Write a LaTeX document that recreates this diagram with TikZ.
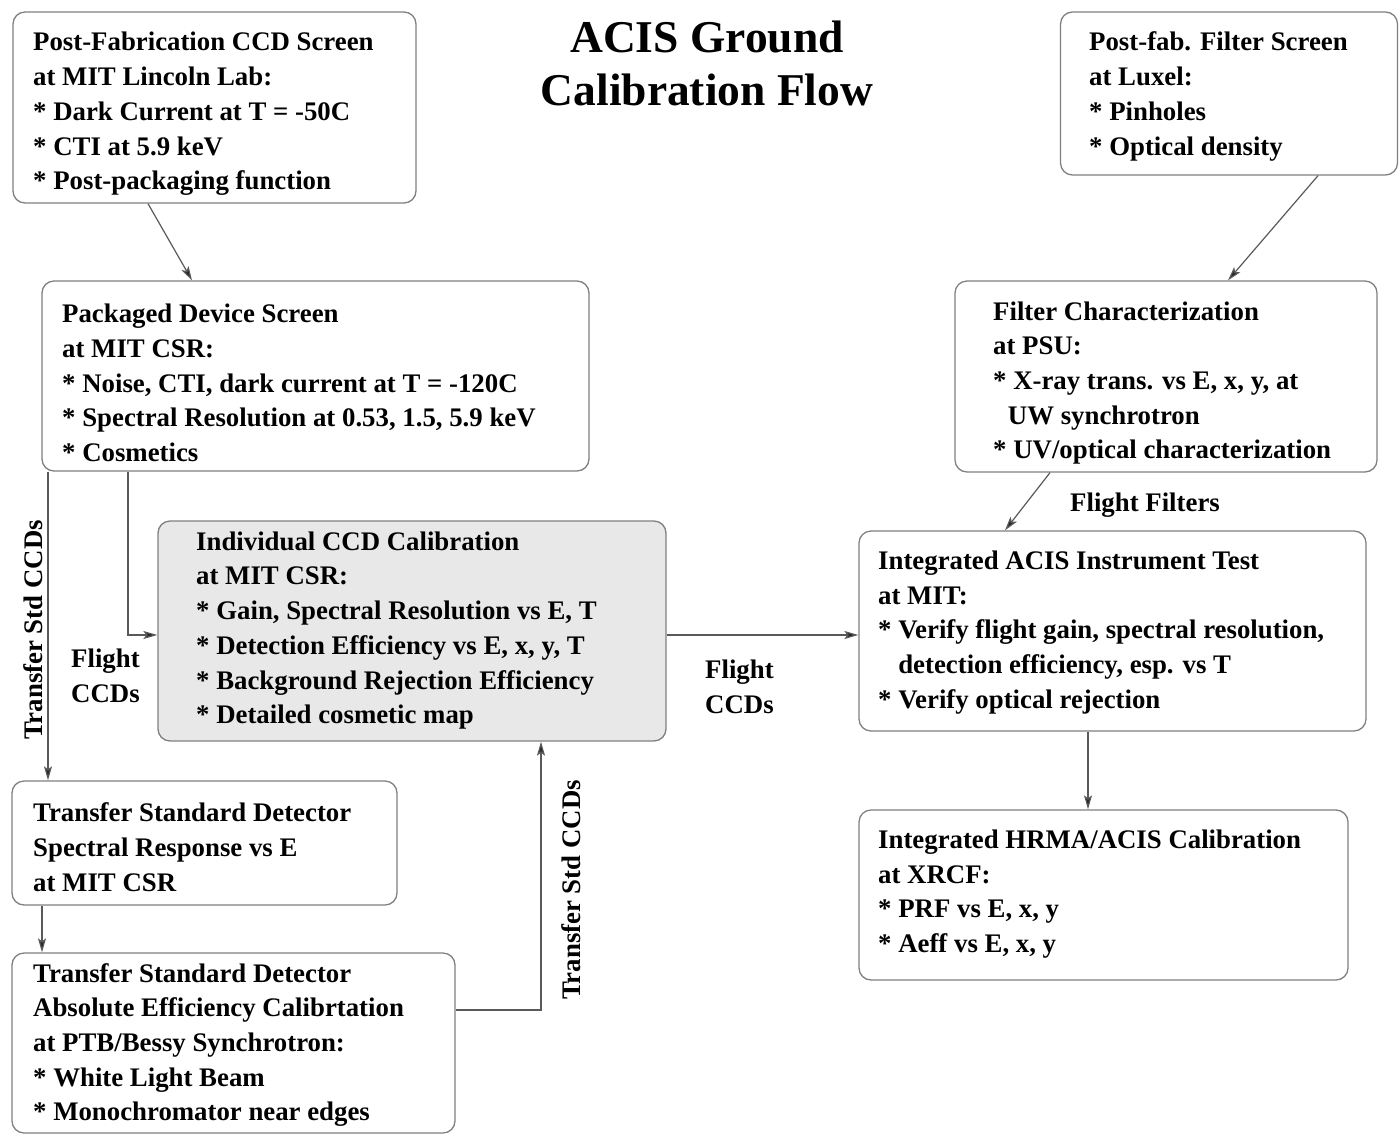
\documentclass[tikz,border=0pt]{standalone}
\usepackage{fontspec}
\setmainfont{Liberation Serif}
\usetikzlibrary{arrows.meta,calc}
\begin{document}
\begin{tikzpicture}[x=1pt,y=-1pt,
  box/.style={draw=black!50,line width=1.3pt,rounded corners=12pt,inner sep=0pt},
  txt/.style={anchor=west,align=left,inner sep=0pt,font=\fontsize{26.8}{34.7}\selectfont\bfseries},
  lbl/.style={inner sep=0pt,font=\fontsize{26.8}{34.7}\selectfont\bfseries},
  conn/.style={draw=black!65,line width=1.2pt,-{Stealth[length=14pt,width=8pt,inset=3pt,fill=black!85]}}]
\useasboundingbox (0,0) rectangle (1399,1135);
% boxes
\node[box,minimum width=403pt,minimum height=191pt] (A) at (214.5,107.5) {};
\node[box,minimum width=547pt,minimum height=190pt] (B) at (315.5,376) {};
\node[box,fill=black!9,minimum width=508pt,minimum height=220pt] (C) at (412,631) {};
\node[box,minimum width=385pt,minimum height=124pt] (D) at (204.5,843) {};
\node[box,minimum width=443pt,minimum height=180pt] (E) at (233.5,1043) {};
\node[box,minimum width=337pt,minimum height=163pt] (F) at (1229,93.5) {};
\node[box,minimum width=422pt,minimum height=191pt] (G) at (1166,376.5) {};
\node[box,minimum width=507pt,minimum height=200pt] (H) at (1112.5,631) {};
\node[box,minimum width=489pt,minimum height=170pt] (I) at (1103.5,895) {};
% texts
\node[txt] (At) at (33,114) {Post-Fabrication CCD Screen\\at MIT Lincoln Lab:\\* Dark Current at T = -50C\\* CTI at 5.9 keV\\* Post-packaging function};
\node[txt] (Bt) at (62,383) {Packaged Device Screen\\at MIT CSR:\\* Noise, CTI, dark current at T = -120C\\* Spectral Resolution at 0.53, 1.5, 5.9 keV\\* Cosmetics};
\node[txt] (Ct) at (196,630.5) {Individual CCD Calibration\\at MIT CSR:\\* Gain, Spectral Resolution vs E, T\\* Detection Efficiency vs E, x, y, T\\* Background Rejection Efficiency\\* Detailed cosmetic map};
\node[txt] (Dt) at (33,847) {Transfer Standard Detector\\Spectral Response vs E\\at MIT CSR};
\node[txt] (Et) at (33,1045) {Transfer Standard Detector\\Absolute Efficiency Calibrtation\\at PTB/Bessy Synchrotron:\\* White Light Beam\\* Monochromator near edges};
\node[txt] (Ft) at (1089,96.5) {Post-fab. Filter Screen\\at Luxel:\\* Pinholes\\* Optical density};
\node[txt] (Gt) at (993,383) {Filter Characterization\\at PSU:\\* X-ray trans. vs E, x, y, at\\\hspace*{0.55em}UW synchrotron\\* UV/optical characterization};
\node[txt] (Ht) at (878,632.5) {Integrated ACIS Instrument Test\\at MIT:\\* Verify flight gain, spectral resolution,\\\hspace*{0.75em}detection efficiency, esp. vs T\\* Verify optical rejection};
\node[txt] (It) at (878,894) {Integrated HRMA/ACIS Calibration\\at XRCF:\\* PRF vs E, x, y\\* Aeff vs E, x, y};
% title
\node[inner sep=0pt,align=center,font=\fontsize{45.5}{53}\selectfont\bfseries] (title) at (707,63) {ACIS Ground\\Calibration Flow};
% labels
\node[lbl] (ff) at (1145,505) {Flight Filters};
\node[lbl,anchor=west,align=left] (fc1) at (71,676) {Flight\\CCDs};
\node[lbl,anchor=west,align=left] (fc2) at (705,687) {Flight\\CCDs};
\node[lbl,rotate=90] (ts1) at (33,630) {Transfer Std CCDs};
\node[lbl,rotate=90] (ts2) at (571,890) {Transfer Std CCDs};
% connectors
\draw[conn] (A.south -| 148,0) -- (B.north -| 192,0);
\draw[conn] (F.south -| 1318,0) -- (G.north -| 1228,0);
\draw[conn] (G.south -| 1050,0) -- (H.north -| 1005,0);
\draw[conn] (C.east |- 0,635) -- (H.west |- 0,635);
\draw[conn] (B.south -| 128,0) |- (C.west |- 0,635);
\draw[conn] (B.south -| 48,0) -- (D.north -| 48,0);
\draw[conn] (D.south -| 42,0) -- (E.north -| 42,0);
\draw[conn] (E.east |- 0,1010) -| (C.south -| 541,0);
\draw[conn] (H.south -| 1088,0) -- (I.north -| 1088,0);
\end{tikzpicture}
\end{document}
